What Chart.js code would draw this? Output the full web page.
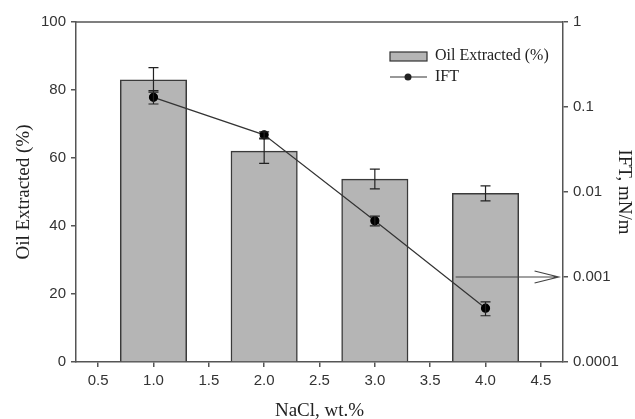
<!DOCTYPE html>
<html>
<head>
<meta charset="utf-8">
<script src="https://cdn.jsdelivr.net/npm/chart.js@4.4.0/dist/chart.umd.min.js"></script>
<style>
  html, body { margin: 0; padding: 0; background: #fff; }
  #wrap { width: 635px; height: 419px; }
</style>
</head>
<body>
<div id="wrap"><canvas id="chart" width="635" height="419"></canvas></div>
<script>
// NaCl concentrations (wt.%)
const nacl = [1.0, 2.0, 3.0, 4.0];
// Oil extracted (%) with error
const oilExtracted = [83.0, 62.0, 53.8, 49.6];
const oilErr = [3.6, 3.6, 2.9, 2.2];
// IFT (mN/m) with lower / upper error limits
const ift = [0.130, 0.047, 0.0046, 0.00043];
const iftLow = [0.1085, 0.043, 0.0040, 0.00035];
const iftHigh = [0.1556, 0.051, 0.0052, 0.00051];

const xTicks = [0.5, 1.0, 1.5, 2.0, 2.5, 3.0, 3.5, 4.0, 4.5];
const iftTicks = [0.0001, 0.001, 0.01, 0.1, 1];
const iftTickLabels = ["0.0001", "0.001", "0.01", "0.1", "1"];

const barWidth = 0.6; // in wt.% units

// arrow pointing to the IFT axis
const arrowFrom = { x: 3.73, y: 0.001 };
const arrowTo = { x: 4.66, y: 0.001 };

const axisColor = "#555";
const tickFont = { family: "Liberation Sans", size: 15 };
const titleFont = { family: "Liberation Serif", size: 19 };

function drawErrBar(ctx, px, t, b) {
  ctx.beginPath();
  ctx.moveTo(px, t); ctx.lineTo(px, b);
  ctx.moveTo(px - 5, t); ctx.lineTo(px + 5, t);
  ctx.moveTo(px - 5, b); ctx.lineTo(px + 5, b);
  ctx.stroke();
}

const extrasPlugin = {
  id: "extras",
  afterDatasetDraw(chart, args) {
    const ctx = chart.ctx;
    const xs = chart.scales.x;
    ctx.save();
    ctx.strokeStyle = "#222";
    ctx.lineWidth = 1.2;
    if (args.index === 0) {
      const ys = chart.scales.y;
      nacl.forEach((v, i) => {
        drawErrBar(ctx, xs.getPixelForValue(v),
          ys.getPixelForValue(oilExtracted[i] + oilErr[i]),
          ys.getPixelForValue(oilExtracted[i] - oilErr[i]));
      });
    }
    if (args.index === 1) {
      const ys = chart.scales.y1;
      nacl.forEach((v, i) => {
        drawErrBar(ctx, xs.getPixelForValue(v),
          ys.getPixelForValue(iftHigh[i]),
          ys.getPixelForValue(iftLow[i]));
      });
    }
    ctx.restore();
  },
  afterDraw(chart) {
    const ctx = chart.ctx;
    const a = chart.chartArea;
    const xs = chart.scales.x;
    const y1 = chart.scales.y1;
    ctx.save();
    // top frame line
    ctx.strokeStyle = axisColor;
    ctx.lineWidth = 1.5;
    ctx.beginPath();
    ctx.moveTo(a.left, a.top); ctx.lineTo(a.right, a.top);
    ctx.stroke();

    // arrow
    const ax0 = xs.getPixelForValue(arrowFrom.x);
    const ax1 = xs.getPixelForValue(arrowTo.x);
    const ay = y1.getPixelForValue(arrowFrom.y);
    ctx.strokeStyle = "#444";
    ctx.lineWidth = 1.2;
    ctx.beginPath();
    ctx.moveTo(ax0, ay); ctx.lineTo(ax1, ay);
    ctx.moveTo(ax1 - 24, ay - 6); ctx.lineTo(ax1, ay); ctx.lineTo(ax1 - 24, ay + 6);
    ctx.stroke();

    // legend
    const lx = a.right - 173;
    const ly = a.top + 30;
    ctx.fillStyle = "#b5b5b5";
    ctx.fillRect(lx, ly, 37, 9);
    ctx.strokeStyle = "#333";
    ctx.lineWidth = 1.2;
    ctx.strokeRect(lx, ly, 37, 9);
    ctx.fillStyle = "#222";
    ctx.font = "16px 'Liberation Serif'";
    ctx.textBaseline = "middle";
    ctx.fillText("Oil Extracted (%)", lx + 45, ly + 4);
    ctx.beginPath();
    ctx.moveTo(lx, ly + 25); ctx.lineTo(lx + 37, ly + 25);
    ctx.stroke();
    ctx.beginPath();
    ctx.arc(lx + 18, ly + 25, 3.5, 0, Math.PI * 2);
    ctx.fill();
    ctx.fillText("IFT", lx + 45, ly + 25);
    ctx.restore();
  }
};

new Chart(document.getElementById("chart"), {
  type: "bar",
  data: {
    datasets: [
      {
        type: "bar",
        label: "Oil Extracted (%)",
        data: nacl.map((x, i) => ({ x: x, y: oilExtracted[i] })),
        backgroundColor: "#b5b5b5",
        borderColor: "#3a3a3a",
        borderWidth: 1.5,
        barThickness: c => {
          const s = c.chart.scales.x;
          return s ? Math.abs(s.getPixelForValue(barWidth) - s.getPixelForValue(0)) : 60;
        },
        yAxisID: "y",
        order: 2
      },
      {
        type: "line",
        label: "IFT",
        data: nacl.map((x, i) => ({ x: x, y: ift[i] })),
        borderColor: "#333",
        borderWidth: 1.2,
        backgroundColor: "#000",
        pointBackgroundColor: "#000",
        pointBorderColor: "#000",
        pointRadius: 4,
        tension: 0,
        fill: false,
        yAxisID: "y1",
        order: 1
      }
    ]
  },
  options: {
    responsive: false,
    animation: false,
    layout: { padding: { top: 22, left: 0, right: 0, bottom: 0 } },
    plugins: {
      legend: { display: false },
      tooltip: { enabled: false }
    },
    scales: {
      x: {
        type: "linear",
        offset: false,
        min: 0.3,
        max: 4.7,
        afterBuildTicks: s => { s.ticks = xTicks.map(v => ({ value: v })); },
        afterFit: s => { s.height = 57; },
        grid: { display: true, drawOnChartArea: false, offset: false, tickLength: 5, color: axisColor, lineWidth: 1.5 },
        border: { color: axisColor, width: 1.5 },
        ticks: { color: "#333", font: tickFont, padding: 5, maxRotation: 0, callback: v => v.toFixed(1) },
        title: { display: true, text: "NaCl, wt.%", color: "#222", font: titleFont, padding: { top: 15, bottom: -3 } }
      },
      y: {
        position: "left",
        min: 0,
        max: 100,
        afterFit: s => { s.width = 76; },
        grid: { display: true, drawOnChartArea: false, tickLength: 5, color: axisColor, lineWidth: 1.5 },
        border: { color: axisColor, width: 1.5 },
        ticks: { stepSize: 20, color: "#333", font: tickFont, padding: 5 },
        title: { display: true, text: "Oil Extracted (%)", color: "#222", font: titleFont, padding: { top: 13, bottom: 0 } }
      },
      y1: {
        type: "logarithmic",
        position: "right",
        min: 0.0001,
        max: 1,
        afterBuildTicks: s => { s.ticks = iftTicks.map(v => ({ value: v })); },
        afterFit: s => { s.width = 72; },
        grid: { display: true, drawOnChartArea: false, tickLength: 5, color: axisColor, lineWidth: 1.5 },
        border: { color: axisColor, width: 1.5 },
        ticks: {
          color: "#333", font: tickFont, padding: 5,
          callback: (v) => { const i = iftTicks.indexOf(v); return i >= 0 ? iftTickLabels[i] : ""; }
        },
        title: { display: true, text: "IFT, mN/m", color: "#222", font: titleFont, padding: { top: 0, bottom: 2 } }
      }
    }
  },
  plugins: [extrasPlugin]
});
</script>
</body>
</html>
